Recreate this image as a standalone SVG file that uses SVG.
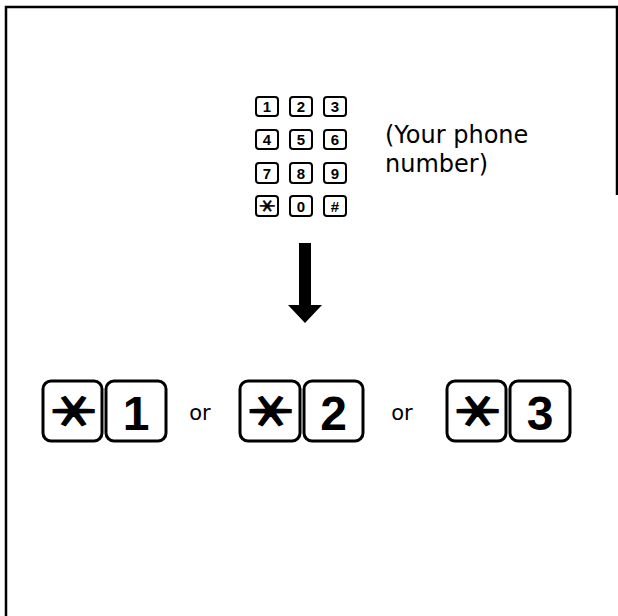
<svg xmlns="http://www.w3.org/2000/svg" width="618" height="616" viewBox="0 0 618 616">
<style>
.frame{fill:none;stroke:#000;stroke-width:2.5}
.sk{fill:#fff;stroke:#000;stroke-width:2}
.bk{fill:#fff;stroke:#000;stroke-width:3}
.sd{font-family:"Liberation Sans",Arial,sans-serif;font-weight:bold;font-size:15px;text-anchor:middle;fill:#000}
.bd{font-family:"Liberation Sans",Arial,sans-serif;font-weight:bold;font-size:48px;text-anchor:middle;fill:#000}
.lbl{font-family:"DejaVu Sans",sans-serif;font-size:24px;fill:#000}
.or{font-family:"DejaVu Sans",sans-serif;font-size:21px;text-anchor:middle;fill:#000}
.star{font-family:"Noto Sans CJK JP",sans-serif;font-weight:bold;text-anchor:middle;fill:#000;stroke:#000}
.sbig{font-size:46px;stroke-width:1.2}
.ssm{font-size:17px;stroke-width:0.5}
</style>
<rect width="618" height="616" fill="#fff"/>
<path class="frame" d="M6,616 V7 H617 V195"/>
<g id="keypad">
  <rect class="sk" x="256" y="97" width="22" height="19" rx="3"/>
  <rect class="sk" x="290" y="97" width="22" height="19" rx="3"/>
  <rect class="sk" x="324" y="97" width="22" height="19" rx="3"/>
  <rect class="sk" x="256" y="130" width="22" height="19" rx="3"/>
  <rect class="sk" x="290" y="130" width="22" height="19" rx="3"/>
  <rect class="sk" x="324" y="130" width="22" height="19" rx="3"/>
  <rect class="sk" x="256" y="163" width="22" height="20" rx="3"/>
  <rect class="sk" x="290" y="163" width="22" height="20" rx="3"/>
  <rect class="sk" x="324" y="163" width="22" height="20" rx="3"/>
  <rect class="sk" x="256" y="196" width="22" height="20" rx="3"/>
  <rect class="sk" x="290" y="196" width="22" height="20" rx="3"/>
  <rect class="sk" x="324" y="196" width="22" height="20" rx="3"/>
  <text class="sd" x="267" y="112">1</text>
  <text class="sd" x="301" y="112">2</text>
  <text class="sd" x="335" y="112">3</text>
  <text class="sd" x="267" y="145">4</text>
  <text class="sd" x="301" y="145">5</text>
  <text class="sd" x="335" y="145">6</text>
  <text class="sd" x="267" y="179">7</text>
  <text class="sd" x="301" y="179">8</text>
  <text class="sd" x="335" y="179">9</text>
  <text class="star ssm" transform="translate(267,206) scale(1.1,0.9) rotate(90)" x="0" y="6.3">＊</text>
  <text class="sd" x="301" y="212">0</text>
  <text class="sd" x="335" y="212">#</text>
</g>
<g id="label">
  <text class="lbl" x="385" y="143">(Your phone</text>
  <text class="lbl" x="385" y="172">number)</text>
</g>
<g id="connectors">
  <path d="M299,243 H311 V305 H322 L305,323 L288,305 H299 Z" fill="#000"/>
</g>
<g id="option1">
  <rect class="bk" x="43" y="381" width="59" height="60" rx="8"/>
  <rect class="bk" x="106" y="381" width="60" height="60" rx="8"/>
  <text class="star sbig" transform="translate(72.5,411) scale(1.15,0.9) rotate(90)" x="0" y="17">＊</text>
  <text class="bd" x="136" y="430">1</text>
</g>
<text class="or" x="200" y="420">or</text>
<g id="option2">
  <rect class="bk" x="240" y="381" width="60" height="60" rx="8"/>
  <rect class="bk" x="304" y="381" width="59" height="60" rx="8"/>
  <text class="star sbig" transform="translate(270,411) scale(1.15,0.9) rotate(90)" x="0" y="17">＊</text>
  <text class="bd" x="333.5" y="430">2</text>
</g>
<text class="or" x="402" y="420">or</text>
<g id="option3">
  <rect class="bk" x="447" y="381" width="59" height="60" rx="8"/>
  <rect class="bk" x="510" y="381" width="60" height="60" rx="8"/>
  <text class="star sbig" transform="translate(476.5,411) scale(1.15,0.9) rotate(90)" x="0" y="17">＊</text>
  <text class="bd" x="540" y="430">3</text>
</g>
</svg>
